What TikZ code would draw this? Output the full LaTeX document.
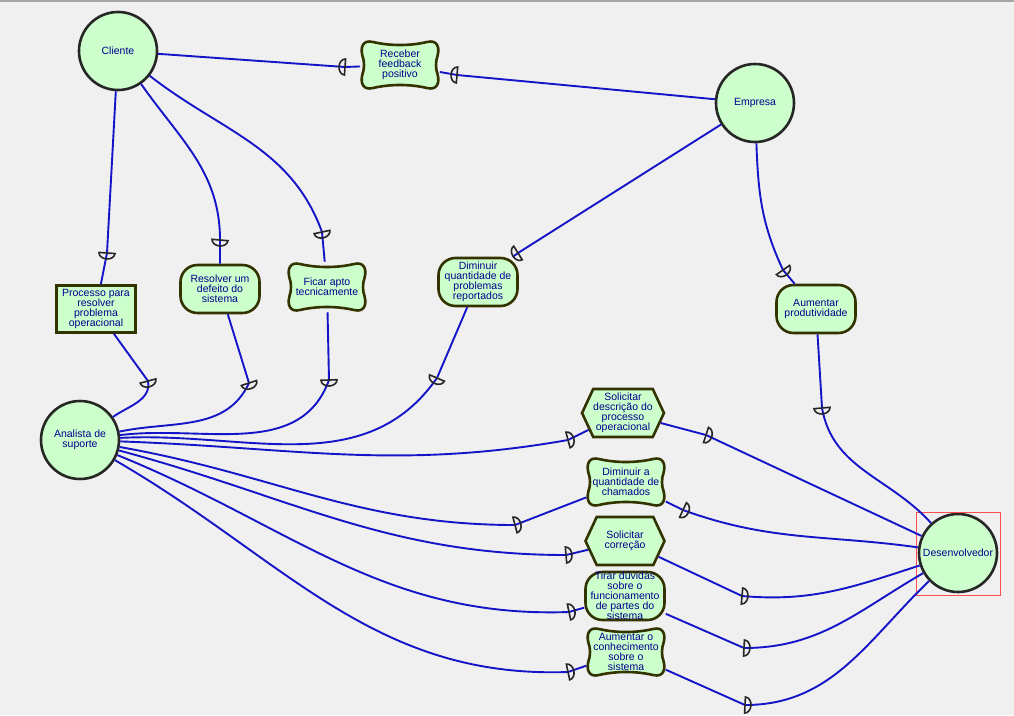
\documentclass[tikz,border=0pt]{standalone}
\usepackage{fontspec}
\setmainfont{Liberation Sans}
\usetikzlibrary{shapes.symbols}

\definecolor{bgc}{RGB}{240,240,240}
\definecolor{elfill}{RGB}{204,255,204}
\definecolor{elline}{RGB}{51,51,0}
\definecolor{linkc}{RGB}{20,20,200}
\definecolor{txtc}{RGB}{0,0,140}

\tikzstyle{elem}=[draw=elline, line width=2.6pt, fill=elfill, text=txtc, align=center, inner sep=0pt, font=\fontsize{10.5}{10}\selectfont]
\tikzstyle{actor}=[elem, circle, draw=black!85, minimum size=78pt]
\tikzstyle{goal}=[elem, rectangle, rounded corners=17pt, minimum width=79pt, minimum height=48pt]
\tikzstyle{resource}=[elem, rectangle, minimum width=79pt, minimum height=47pt]
\tikzstyle{task}=[elem, signal, signal to=west and east, signal pointer angle=130, minimum width=79pt, minimum height=48pt]
\tikzstyle{softtext}=[elem, draw=none, fill=none, rectangle, minimum width=77pt, minimum height=48pt]
\tikzstyle{link}=[draw=linkc, line width=1.9pt]
\tikzstyle{dline}=[draw=black!85, line width=1.6pt]

\tikzset{
  softgoal/.pic={
    \draw[draw=elline, line width=2.6pt, fill=elfill]
      (-27,23) .. controls (-10,19) and (10,19) .. (27,23)
      .. controls (37,25.5) and (40,18) .. (37.5,9)
      .. controls (35.5,4) and (35.5,-4) .. (37.5,-9)
      .. controls (40,-18) and (37,-25.5) .. (27,-23)
      .. controls (10,-19) and (-10,-19) .. (-27,-23)
      .. controls (-37,-25.5) and (-40,-18) .. (-37.5,-9)
      .. controls (-35.5,-4) and (-35.5,4) .. (-37.5,9)
      .. controls (-40,18) and (-37,25.5) .. (-27,23) -- cycle;
  },
  dmk/.pic={
    \draw[dline] (0,-8) arc[start angle=-90, end angle=90, x radius=6, y radius=8] -- cycle;
  }
}

\begin{document}
\begin{tikzpicture}[x=1pt, y=1pt]
  \useasboundingbox (0,0) rectangle (1014,-715);
  \fill[bgc] (0,0) rectangle (1014,-715);
  \draw[gray!70, line width=1.5pt] (0,-1) -- (1014,-1);

  % actors
  \node[actor] (cli) at (118,-51) {Cliente};
  \node[actor] (emp) at (755,-103) {Empresa};
  \node[actor] (ana) at (80,-440) {Analista de\\suporte};
  \node[actor] (des) at (958,-553) {Desenvolvedor};
  \draw[red!70, line width=0.8pt] (916,-512) rectangle (1000,-595);

  % dependums
  \pic at (400,-65) {softgoal};
  \node[softtext] (rec) at (400,-65) {Receber\\feedback\\positivo};
  \node[resource] (pro) at (96,-309) {Processo para\\resolver\\problema\\operacional};
  \node[goal] (res) at (220,-289) {Resolver um\\defeito do\\sistema};
  \pic at (327,-287) {softgoal};
  \node[softtext] (fic) at (327,-287) {Ficar apto\\tecnicamente};
  \node[goal] (dim) at (478,-282) {Diminuir\\quantidade de\\problemas\\reportados};
  \node[goal] (aum) at (816,-309) {Aumentar\\produtividade};
  \node[task] (sdp) at (623,-413) {Solicitar\\descrição do\\processo\\operacional};
  \pic at (626,-482) {softgoal};
  \node[softtext] (dqc) at (626,-482) {Diminuir a\\quantidade de\\chamados};
  \node[task] (scr) at (625,-541) {Solicitar\\correção};
  \node[goal] (tdu) at (625,-596) {Tirar dúvidas\\sobre o\\funcionamento\\de partes do\\sistema};
  \pic at (626,-652) {softgoal};
  \node[softtext] (acs) at (626,-652) {Aumentar o\\conhecimento\\sobre o\\sistema};

  % D points
  \coordinate (dRecE) at (457,-75);
  \coordinate (dRecC) at (345,-67);
  \coordinate (dProC) at (107,-253);
  \coordinate (dProA) at (148,-381);
  \coordinate (dResC) at (220,-240);
  \coordinate (dResA) at (249,-383);
  \coordinate (dFicC) at (322,-232);
  \coordinate (dFicA) at (329,-380);
  \coordinate (dDimE) at (518,-253);
  \coordinate (dDimA) at (437,-378);
  \coordinate (dAumE) at (783,-270);
  \coordinate (dAumD) at (822,-408);
  \coordinate (dSdpA) at (568,-440);
  \coordinate (dSdpD) at (706,-435);
  \coordinate (dDqcA) at (515,-525);
  \coordinate (dDqcD) at (683,-510);
  \coordinate (dScrA) at (566,-555);
  \coordinate (dScrD) at (742,-596);
  \coordinate (dTduA) at (569,-612);
  \coordinate (dTduD) at (744,-648);
  \coordinate (dAcsA) at (568,-672);
  \coordinate (dAcsD) at (745,-705);

  % links
  \draw[link] (emp) -- (dRecE) -- (rec);
  \draw[link] (rec) -- (dRecC) -- (cli);
  \draw[link] (cli) -- (dProC) -- (pro);
  \draw[link] (pro) -- (dProA) to[out=-80,in=35] (ana);
  \draw[link] (cli) to[out=-55,in=90] (dResC) -- (res);
  \draw[link] (res) -- (dResA) to[out=-115,in=12] (ana);
  \draw[link] (cli) to[out=-38,in=110] (dFicC) -- (fic);
  \draw[link] (fic) -- (dFicA) to[out=-110,in=7] (ana);
  \draw[link] (emp) -- (dDimE) -- (dim);
  \draw[link] (dim) -- (dDimA) to[out=-125,in=3] (ana);
  \draw[link] (emp) to[out=-88,in=115] (dAumE) -- (aum);
  \draw[link] (aum) -- (dAumD) to[out=-80,in=132] (des);
  \draw[link] (ana) to[out=-2,in=190] (dSdpA) -- (sdp);
  \draw[link] (sdp) -- (dSdpD) -- (des);
  \draw[link] (ana) to[out=-10,in=180] (dDqcA) -- (dqc);
  \draw[link] (dqc) -- (dDqcD) to[out=-20,in=172] (des);
  \draw[link] (ana) to[out=-15,in=180] (dScrA) -- (scr);
  \draw[link] (scr) -- (dScrD) to[out=-5,in=198] (des);
  \draw[link] (ana) to[out=-22,in=182] (dTduA) -- (tdu);
  \draw[link] (tdu) -- (dTduD) to[out=0,in=210] (des);
  \draw[link] (ana) to[out=-30,in=182] (dAcsA) -- (acs);
  \draw[link] (acs) -- (dAcsD) to[out=0,in=224] (des);

  % D marks
  \pic[rotate=175] at (dRecE) {dmk};
  \pic[rotate=176] at (dRecC) {dmk};
  \pic[rotate=-94] at (dProC) {dmk};
  \pic[rotate=-75] at (dProA) {dmk};
  \pic[rotate=-95] at (dResC) {dmk};
  \pic[rotate=-72] at (dResA) {dmk};
  \pic[rotate=-78] at (dFicC) {dmk};
  \pic[rotate=-88] at (dFicA) {dmk};
  \pic[rotate=212] at (dDimE) {dmk};
  \pic[rotate=-113] at (dDimA) {dmk};
  \pic[rotate=-55] at (dAumE) {dmk};
  \pic[rotate=-85] at (dAumD) {dmk};
  \pic[rotate=15] at (dSdpA) {dmk};
  \pic[rotate=-18] at (dSdpD) {dmk};
  \pic[rotate=15] at (dDqcA) {dmk};
  \pic[rotate=-25] at (dDqcD) {dmk};
  \pic[rotate=5] at (dScrA) {dmk};
  \pic[rotate=-5] at (dScrD) {dmk};
  \pic[rotate=12] at (dTduA) {dmk};
  \pic[rotate=-3] at (dTduD) {dmk};
  \pic[rotate=12] at (dAcsA) {dmk};
  \pic[rotate=-3] at (dAcsD) {dmk};
\end{tikzpicture}
\end{document}
